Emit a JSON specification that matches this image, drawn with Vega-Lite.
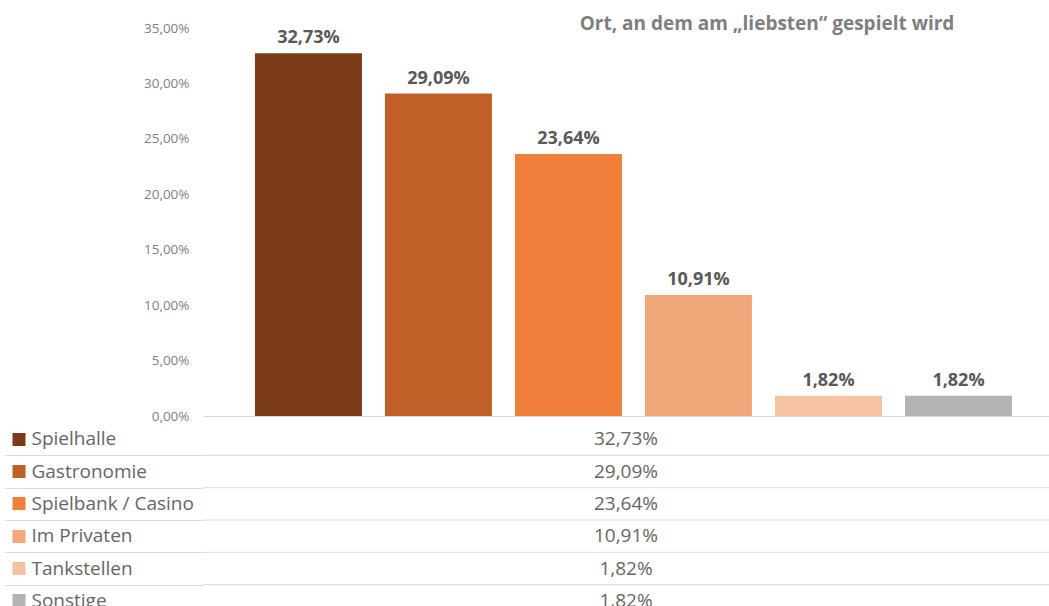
{
  "$schema": "https://vega.github.io/schema/vega-lite/v6.json",
  "padding": {"left": 0, "top": 15, "right": 0, "bottom": 0},
  "background": "white",
  "config": {
    "locale": {"number": {"decimal": ",", "thousands": ".", "grouping": [3], "currency": ["", " €"]}},
    "view": {"stroke": null},
    "font": "Open Sans"
  },
  "data": {
    "values": [
      {"Ort": "Spielhalle", "Anteil": 0.3273},
      {"Ort": "Gastronomie", "Anteil": 0.2909},
      {"Ort": "Spielbank / Casino", "Anteil": 0.2364},
      {"Ort": "Im Privaten", "Anteil": 0.1091},
      {"Ort": "Tankstellen", "Anteil": 0.0182},
      {"Ort": "Sonstige", "Anteil": 0.0182}
    ]
  },
  "spacing": -3,
  "resolve": {"scale": {"x": "independent", "y": "independent", "color": "independent"}},
  "vconcat": [
    {
      "width": 846,
      "height": 388,
      "title": {
        "text": "Ort, an dem am „liebsten“ gespielt wird",
        "anchor": "middle",
        "frame": "group",
        "dx": 141,
        "offset": -13,
        "fontSize": 19,
        "fontWeight": "bold",
        "color": "#7f7f7f",
        "font": "Open Sans"
      },
      "layer": [
        {
          "mark": {"type": "bar"},
          "encoding": {
            "x": {
              "field": "Ort", "type": "nominal", "sort": null,
              "scale": {"paddingInner": 0.177, "paddingOuter": 0.342, "align": 0.584},
              "axis": {"title": null, "labels": false, "ticks": false, "domain": true, "domainColor": "#d9d9d9", "domainWidth": 1}
            },
            "y": {
              "field": "Anteil", "type": "quantitative",
              "scale": {"domain": [0, 0.35], "nice": false},
              "axis": {
                "title": null,
                "values": [0, 0.05, 0.1, 0.15, 0.2, 0.25, 0.3, 0.35],
                "format": ".2%",
                "grid": false, "ticks": false, "domain": false,
                "labelPadding": 14, "labelFontSize": 13.5, "labelColor": "#7f7f7f", "labelFont": "Open Sans",
                "minExtent": 203, "maxExtent": 203
              }
            },
            "color": {
              "field": "Ort", "type": "nominal",
              "scale": {
                "domain": ["Spielhalle", "Gastronomie", "Spielbank / Casino", "Im Privaten", "Tankstellen", "Sonstige"],
                "range": ["#7B3A18", "#C05F27", "#EF7F3A", "#F3A87C", "#F6C3A2", "#B1B3B4"]
              },
              "legend": null
            }
          }
        },
        {
          "mark": {"type": "text", "dy": -10, "baseline": "alphabetic", "fontSize": 18, "fontWeight": "bold", "color": "#595959", "font": "Open Sans"},
          "encoding": {
            "x": {"field": "Ort", "type": "nominal", "sort": null},
            "y": {"field": "Anteil", "type": "quantitative"},
            "text": {"field": "Anteil", "type": "quantitative", "format": ".2%"}
          }
        }
      ]
    },
    {
      "width": 846,
      "height": 194,
      "resolve": {"axis": {"y": "independent"}},
      "layer": [
        {
          "transform": [{"filter": "datum.Ort !== 'Spielhalle'"}],
          "mark": {"type": "rule", "color": "#dcdcdc", "strokeWidth": 1},
          "encoding": {
            "y": {
              "field": "Ort", "type": "nominal", "sort": null, "bandPosition": 0,
              "scale": {
                "domain": ["Spielhalle", "Gastronomie", "Spielbank / Casino", "Im Privaten", "Tankstellen", "Sonstige"],
                "paddingInner": 0, "paddingOuter": 0
              },
              "axis": {
                "title": null, "orient": "left", "offset": 178,
                "domain": false, "grid": false, "ticks": true,
                "tickSize": 13, "tickWidth": 13, "tickCap": "butt",
                "tickColor": {
                  "condition": [
                    {"test": "datum.value === 'Spielhalle'", "value": "#7B3A18"},
                    {"test": "datum.value === 'Gastronomie'", "value": "#C05F27"},
                    {"test": "datum.value === 'Spielbank / Casino'", "value": "#EF7F3A"},
                    {"test": "datum.value === 'Im Privaten'", "value": "#F3A87C"},
                    {"test": "datum.value === 'Tankstellen'", "value": "#F6C3A2"}
                  ],
                  "value": "#B1B3B4"
                },
                "labelAlign": "left", "labelBaseline": "middle", "labelPadding": -19,
                "labelFontSize": 19, "labelColor": "#666666", "labelFont": "Open Sans",
                "labelLimit": 0, "labelBound": false, "labelOverlap": false,
                "minExtent": 0, "maxExtent": 0
              }
            }
          }
        },
        {
          "mark": {"type": "text", "fontSize": 19, "color": "#666666", "font": "Open Sans", "baseline": "middle"},
          "encoding": {
            "y": {
              "field": "Ort", "type": "nominal", "sort": null,
              "axis": {
                "title": null, "orient": "left", "offset": 0,
                "domain": false, "grid": false, "labels": false, "ticks": true,
                "tickBand": "extent", "tickSize": 198, "tickWidth": 1, "tickColor": "#dcdcdc",
                "tickOpacity": {"condition": {"test": "datum.extra", "value": 0}, "value": 1},
                "minExtent": 0, "maxExtent": 0
              }
            },
            "text": {"field": "Anteil", "type": "quantitative", "format": ".2%"}
          }
        }
      ]
    }
  ]
}
